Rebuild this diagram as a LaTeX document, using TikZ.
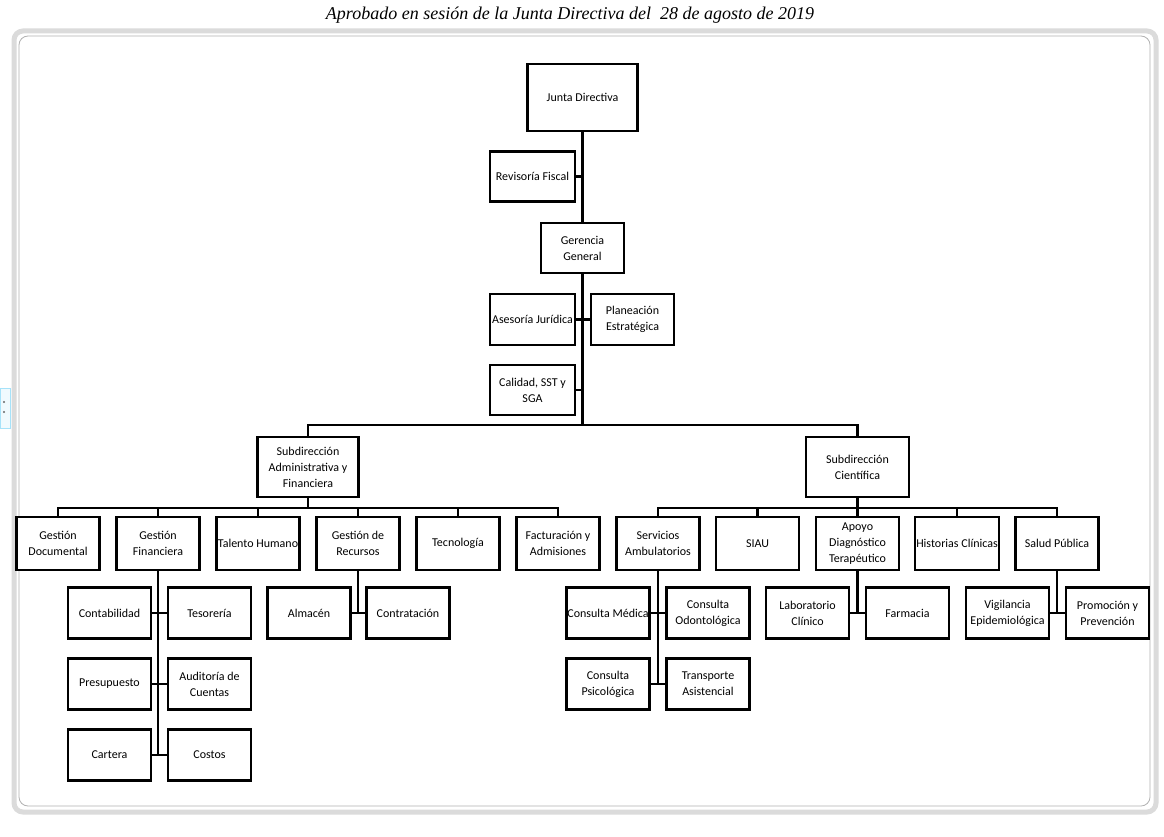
\documentclass[tikz,border=0pt]{standalone}
\usepackage{fontspec}
\setmainfont{Carlito}
\newfontfamily\titlefont{Liberation Serif}
\usetikzlibrary{positioning}

\begin{document}
\begin{tikzpicture}[
  x=1pt, y=-1pt,
  every node/.style={font=\fontsize{12}{16}\selectfont},
  box/.style={draw, line width=2.2pt, align=center, inner sep=1pt,
              minimum width=83, minimum height=51, fill=white},
  unitbox/.style={box, minimum height=53},
  headbox/.style={box, minimum width=101, minimum height=60},
  link/.style={line width=2.2pt, line cap=rect},
  frame/.style={rounded corners=9},
]
\useasboundingbox[fill=white] (0,0) rectangle (1164,837);

% window frame of the screenshot
\draw[frame, black!14, line width=5] (14,31) rectangle (1156,812);
\draw[frame, black!30, line width=0.8] (19,36) rectangle (1150,806);
\draw[cyan!35, fill=cyan!6] (0,388) rectangle (10,428);
\fill[black!60] (4,402) circle (1.2) (4,412) circle (1.2);

\node[font=\titlefont\itshape\fontsize{18}{20}\selectfont] (title) at (570,15)
  {Aprobado en sesión de la Junta Directiva del\ \ 28 de agosto de 2019};

% direction
\node[box, minimum width=110, minimum height=67] (junta) at (582.5,97.5) {Junta Directiva};
\node[box, minimum width=85, minimum height=50]  (revisoria) at (532.5,176.5) {Revisoría Fiscal};
\node[box, minimum height=50]                    (gerencia) at (582.5,248) {Gerencia\\General};
\node[box, minimum width=85]                     (asesoria) at (532.5,319.5) {Asesoría Jurídica};
\node[box]                                       (planeacion) at (632.5,319.5) {Planeación\\Estratégica};
\node[box, minimum width=85, minimum height=50]  (calidad) at (532.5,390) {Calidad, SST y\\SGA};

\node[headbox]                    (subadm)  at (308,467)   {Subdirección\\Administrativa y\\Financiera};
\node[headbox, minimum width=103] (subcien) at (857.5,467) {Subdirección\\Científica};

% areas
\node[unitbox] (gdoc)    at (58,543.5)  {Gestión\\Documental};
\node[unitbox] (gfin)    at (158,543.5) {Gestión\\Financiera};
\node[unitbox] (talento) at (258,543.5) {Talento Humano};
\node[unitbox] (grec)    at (358,543.5) {Gestión de\\Recursos};
\node[unitbox] (tecno)   at (458,543.5) {Tecnología};
\node[unitbox] (factu)   at (558,543.5) {Facturación y\\Admisiones};

\node[unitbox] (servamb) at (658,543.5)   {Servicios\\Ambulatorios};
\node[unitbox] (siau)    at (757.5,543.5) {SIAU};
\node[unitbox] (apoyo)   at (857.5,543.5) {Apoyo\\Diagnóstico\\Terapéutico};
\node[unitbox] (histcl)  at (957,543.5)   {Historias Clínicas};
\node[unitbox] (salud)   at (1057,543.5)  {Salud Pública};

% units
\node[box] (contab)  at (109.5,613) {Contabilidad};
\node[box] (tesor)   at (209.5,613) {Tesorería};
\node[box] (presup)  at (109.5,684) {Presupuesto};
\node[box] (audit)   at (209.5,684) {Auditoría de\\Cuentas};
\node[box] (cartera) at (109.5,755) {Cartera};
\node[box] (costos)  at (209.5,755) {Costos};

\node[box] (almacen) at (309,613) {Almacén};
\node[box] (contrat) at (408,613) {Contratación};

\node[box] (cmedica) at (608,613) {Consulta Médica};
\node[box] (codonto) at (708,613) {Consulta\\Odontológica};
\node[box] (cpsico)  at (608,684) {Consulta\\Psicológica};
\node[box] (transp)  at (708,684) {Transporte\\Asistencial};

\node[box] (labclin)  at (807.5,613) {Laboratorio\\Clínico};
\node[box] (farmacia) at (907.5,613) {Farmacia};

\node[box] (vigil) at (1007.5,613) {Vigilancia\\Epidemiológica};
\node[box] (promo) at (1107.5,613) {Promoción y\\Prevención};

\coordinate (hub)     at (582.5,425);
\coordinate (admbar)  at (308,508);
\coordinate (cienbar) at (857.5,508);

\draw[link] (junta.south) -- (gerencia.north);
\draw[link] (gerencia.south) -- (hub);
\draw[link] (revisoria.east) -- (revisoria.east -| hub);
\draw[link] (asesoria.east) -- (planeacion.west);
\draw[link] (calidad.east) -- (calidad.east -| hub);
\draw[link] (subadm.north) |- (hub) -| (subcien.north);

\draw[link] (subadm.south) -- (admbar);
\foreach \n in {gdoc,gfin,talento,grec,tecno,factu}
  \draw[link] (\n.north) |- (admbar);
\draw[link] (subcien.south) -- (cienbar);
\foreach \n in {servamb,siau,apoyo,histcl,salud}
  \draw[link] (\n.north) |- (cienbar);

\draw[link] (gfin.south) -- (gfin.south |- cartera.east);
\draw[link] (grec.south) -- (grec.south |- almacen.east);
\draw[link] (servamb.south) -- (servamb.south |- cpsico.east);
\draw[link] (apoyo.south) -- (apoyo.south |- labclin.east);
\draw[link] (salud.south) -- (salud.south |- vigil.east);
\foreach \l/\r in {contab/tesor, presup/audit, cartera/costos, almacen/contrat,
                   cmedica/codonto, cpsico/transp, labclin/farmacia, vigil/promo}
  \draw[link] (\l.east) -- (\r.west);
\end{tikzpicture}
\end{document}
